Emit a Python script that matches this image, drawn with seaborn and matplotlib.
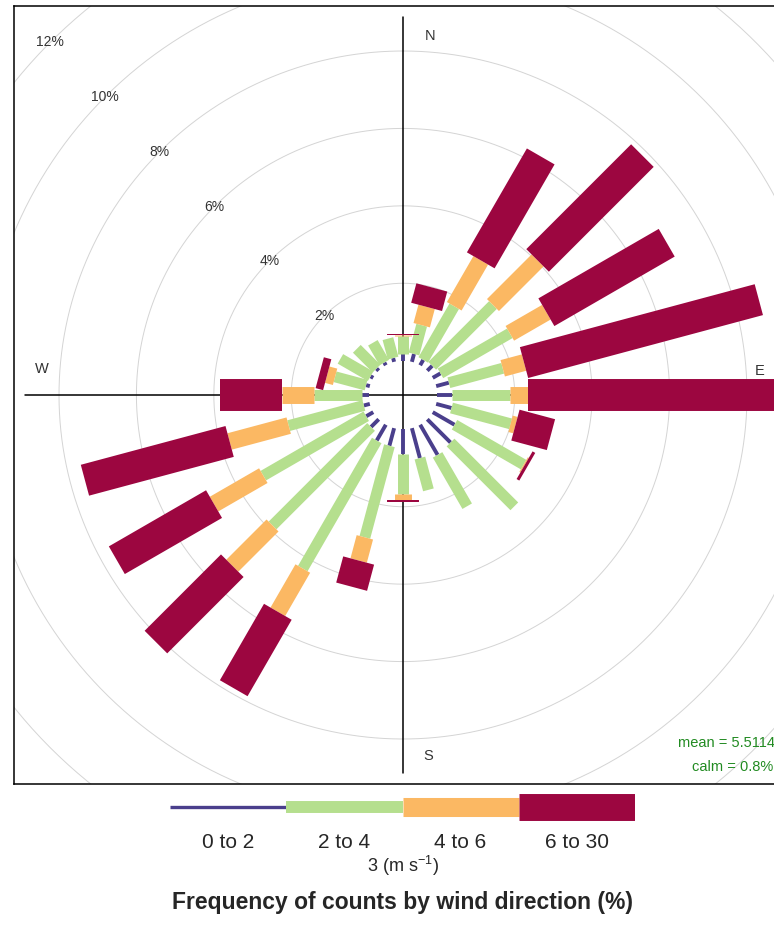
import numpy as np
import seaborn as sns
import matplotlib.pyplot as plt

# wind rose data, 15 degree sectors, % of counts in each speed bin
directions = [15, 30, 45, 60, 75, 90, 105, 120, 135, 150, 165, 180,
              195, 210, 225, 240, 255, 270, 285, 300, 315, 330, 345, 360]
ws_0_2 = [0.21, 0.16, 0.18, 0.23, 0.34, 0.39, 0.41, 0.65, 0.85, 0.90, 0.80, 0.65,
          0.47, 0.47, 0.28, 0.21, 0.16, 0.18, 0.10, 0.08, 0.08, 0.08, 0.10, 0.16]
ws_2_4 = [0.77, 1.60, 2.22, 2.07, 1.44, 1.50, 1.58, 2.06, 2.33, 1.53, 0.85, 1.03,
          2.45, 3.82, 3.60, 3.07, 2.01, 1.22, 0.83, 0.90, 0.72, 0.59, 0.52, 0.49]
ws_4_6 = [0.49, 1.37, 1.63, 1.09, 0.57, 0.44, 0.13, 0.03, 0.00, 0.00, 0.00, 0.15,
          0.62, 1.29, 1.47, 1.47, 1.58, 0.85, 0.21, 0.00, 0.00, 0.00, 0.00, 0.01]
ws_6_30 = [0.52, 3.10, 3.83, 3.59, 6.28, 6.54, 0.95, 0.08, 0.00, 0.00, 0.00, 0.06,
           0.70, 2.28, 2.79, 2.90, 3.87, 1.60, 0.20, 0.00, 0.00, 0.00, 0.00, 0.04]
bin_labels = ['0 to 2', '2 to 4', '4 to 6', '6 to 30']
ring_pct = [2, 4, 6, 8, 10, 12]
mean_ws = 5.5114
calm_pct = 0.8

sns.set_theme(style='white')
plt.rcParams['font.family'] = ['Liberation Sans', 'DejaVu Sans']
plt.rcParams['mathtext.fontset'] = 'custom'
plt.rcParams['mathtext.rm'] = 'Liberation Sans'

colours = ['#4A3F8C', '#B5DF8E', '#FBB863', '#9C0640']
paddle_lw = [2.8, 7.9, 12.2, 23.0]
key_lw = [2.4, 8.6, 13.7, 19.4]

W, H = 774, 927
fig = plt.figure(figsize=(W / 100, H / 100), dpi=100)
ax = fig.add_axes([14 / W, 1 - 784 / H, 778 / W, 778 / H])

freq = np.vstack([ws_0_2, ws_2_4, ws_4_6, ws_6_30])
cum = np.cumsum(freq, axis=0)
max_freq = cum[-1].max()
off = 0.1 * max_freq
lim = 1.03 * (max_freq + off)
theta = np.radians(directions)

# grid circles
t = np.linspace(0, 2 * np.pi, 500)
for p in ring_pct:
    ax.plot((p + off) * np.sin(t), (p + off) * np.cos(t), color='#d4d4d4', lw=0.7, zorder=1)

# axis cross
ext = max_freq + off
ax.plot([-ext, ext], [0, 0], color='black', lw=1.1, zorder=2)
ax.plot([0, 0], [-ext, ext], color='black', lw=1.1, zorder=2)

# paddles
for i, th in enumerate(theta):
    for j in range(4):
        if freq[j, i] <= 0:
            continue
        r0 = off + (cum[j - 1, i] if j > 0 else 0)
        r1 = off + cum[j, i]
        ax.plot([r0 * np.sin(th), r1 * np.sin(th)], [r0 * np.cos(th), r1 * np.cos(th)],
                color=colours[j], lw=paddle_lw[j], solid_capstyle='butt', zorder=3 + j)

# ring labels on the NW diagonal
a = np.radians(315)
for p in ring_pct:
    ax.text((p + off) * np.sin(a), (p + off) * np.cos(a), f'{p}%', ha='center', va='center',
            fontsize=10, color='#333333', zorder=8)

# compass letters
ax.text(0.70, 9.28, 'N', ha='center', va='center', fontsize=10.5, color='#333333')
ax.text(9.22, 0.62, 'E', ha='center', va='center', fontsize=10.5, color='#333333')
ax.text(0.65, -9.33, 'S', ha='center', va='center', fontsize=10.5, color='#333333')
ax.text(-9.33, 0.67, 'W', ha='center', va='center', fontsize=10.5, color='#333333')

ax.text(7.1, -9.0, f'mean = {mean_ws}', ha='left', va='center', fontsize=10.5, color='forestgreen')
ax.text(7.47, -9.6, f'calm = {calm_pct}%', ha='left', va='center', fontsize=10.5, color='forestgreen')

ax.set_xlim(-lim, lim)
ax.set_ylim(-lim, lim)
ax.set_xticks([])
ax.set_yticks([])
for s in ax.spines.values():
    s.set_color('black')
    s.set_linewidth(1.1)

# colour key
kax = fig.add_axes([170 / W, 1 - 822 / H, 465 / W, 30 / H])
for j in range(4):
    kax.plot([j, j + 1], [0.5, 0.5], color=colours[j], lw=key_lw[j], solid_capstyle='butt')
kax.set_xlim(0, 4)
kax.set_ylim(0, 1)
kax.axis('off')

for j, lab in enumerate(bin_labels):
    fig.text((170 + 465 * (j + 0.5) / 4) / W, 1 - 842 / H, lab, ha='center', va='center', fontsize=15)
fig.text(403 / W, 1 - 866 / H, r'3 (m s$^{-1}$)', ha='center', va='center', fontsize=13)
fig.text(403 / W, 1 - 903 / H, 'Frequency of counts by wind direction (%)', ha='center', va='center',
         fontsize=16.5, fontweight='bold')

fig.savefig('out.png', dpi=100)
